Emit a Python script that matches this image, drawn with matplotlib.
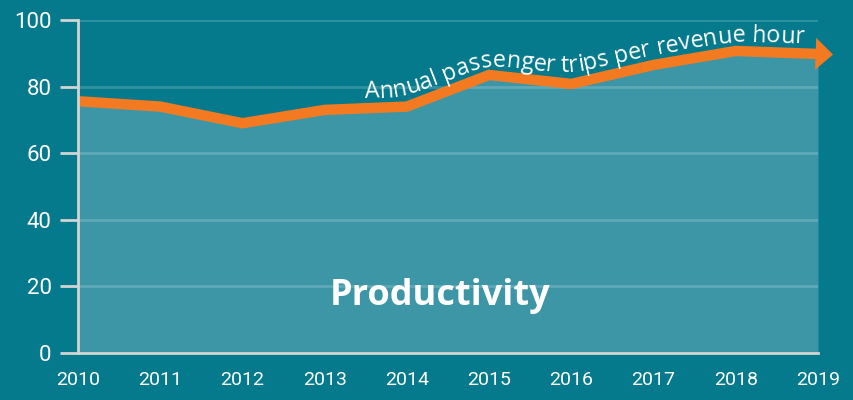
import numpy as np
import matplotlib
matplotlib.use("Agg")
import matplotlib.pyplot as plt
from matplotlib.font_manager import FontProperties, findfont
from matplotlib.ft2font import FT2Font, Kerning

# productivity data
years = [2010, 2011, 2012, 2013, 2014, 2015, 2016, 2017, 2018, 2019]
trips_per_hour = [75.6, 74.0, 69.0, 73.0, 74.0, 83.5, 80.8, 86.5, 90.7, 89.8]
y_ticks = [0, 20, 40, 60, 80, 100]
curve_label = "Annual passenger trips per revenue hour"
title = "Productivity"

bg = "#057a8c"
fill_col = "#3c96a6"
orange = "#f47a22"
axis_col = "#d4d4d4"

fig = plt.figure(figsize=(8.54, 4), dpi=100, facecolor=bg)
ax = fig.add_axes([78 / 854, 47 / 400, 740 / 854, 333 / 400])
ax.set_facecolor(bg)
ax.set_xlim(2010, 2019)
ax.set_ylim(0, 100)

ax.fill_between(years, trips_per_hour, 0, color=fill_col, lw=0, zorder=1)
for v in y_ticks[1:]:
    ax.axhline(v, color="white", alpha=0.18, lw=2, zorder=2)
ax.plot(years, trips_per_hour, color=orange, lw=7.5, solid_joinstyle="miter",
        solid_capstyle="butt", zorder=3, clip_on=False)

# arrow head at the end of the line
p0 = ax.transData.transform((years[-1], trips_per_hour[-1]))
p1 = ax.transData.transform((years[-2], trips_per_hour[-2]))
d = (p0 - p1) / np.hypot(*(p0 - p1))
tip = ax.transData.inverted().transform(p0 + d * 15)
base = ax.transData.inverted().transform(p0 - d * 2)
ax.annotate("", xy=tip, xytext=base, annotation_clip=False,
            arrowprops=dict(arrowstyle="-|>,head_length=12.5,head_width=11.5",
                            mutation_scale=1, color=orange, lw=0,
                            shrinkA=0, shrinkB=0), zorder=4)

for s in ["top", "right"]:
    ax.spines[s].set_visible(False)
for s in ["left", "bottom"]:
    ax.spines[s].set_color(axis_col)
    ax.spines[s].set_linewidth(2)
    ax.spines[s].set_zorder(5)
ax.set_yticks(y_ticks)
ax.set_xticks(years)
ax.tick_params(axis="y", length=13, width=2, color=axis_col, pad=6,
               labelcolor="white", labelsize=16)
ax.tick_params(axis="x", length=0, pad=13, labelcolor="white", labelsize=14)
for lab in ax.get_xticklabels() + ax.get_yticklabels():
    lab.set_fontfamily("Roboto")

ax.text(2014.4, 17.2, title, color="white", fontsize=26, fontweight="bold",
        family="Open Sans", ha="center", va="center", zorder=6)

# label that follows the line, placed glyph by glyph
fp = FontProperties(family="Open Sans", size=16.8)
font = FT2Font(findfont(fp))
font.set_size(fp.get_size_in_points(), fig.dpi)
advances = []
prev = None
for ch in curve_label:
    g = font.load_char(ord(ch))
    idx = font.get_char_index(ord(ch))
    kern = font.get_kerning(prev, idx, Kerning.DEFAULT) / 64 if prev is not None else 0
    advances.append((kern, g.linearHoriAdvance / 65536))
    prev = idx

# smoothed baseline a few pixels above the line (display coords)
pts = ax.transData.transform(np.column_stack([years, trips_per_hour]))
xs = np.arange(pts[0, 0], pts[-1, 0] + 1)
ys = np.interp(xs, pts[:, 0], pts[:, 1])
win = 41
ys_s = np.convolve(np.pad(ys, win // 2, mode="edge"), np.ones(win) / win, mode="valid")
dydx = np.gradient(ys_s)
nrm = np.column_stack([-dydx, np.ones_like(dydx)]) / np.hypot(dydx, 1)[:, None]
offset = 10
base_line = np.column_stack([xs, ys_s]) + offset * nrm
arc = np.concatenate([[0], np.cumsum(np.hypot(*np.diff(base_line, axis=0).T))])


def along(s):
    return np.array([np.interp(s, arc, base_line[:, 0]),
                     np.interp(s, arc, base_line[:, 1])])


pos_s = np.interp(365, base_line[:, 0], arc)
for ch, (kern, adv) in zip(curve_label, advances):
    pos_s += kern
    s = pos_s + adv / 2
    pos_s += adv
    if ch == " ":
        continue
    a, b = along(s - 4), along(s + 4)
    ang = np.degrees(np.arctan2(b[1] - a[1], b[0] - a[0]))
    xd, yd = ax.transData.inverted().transform(along(s))
    ax.text(xd, yd, ch, fontproperties=fp, color="white", rotation=ang,
            rotation_mode="anchor", ha="center", va="baseline", zorder=6)

fig.savefig("out.png", dpi=100, facecolor=bg)
